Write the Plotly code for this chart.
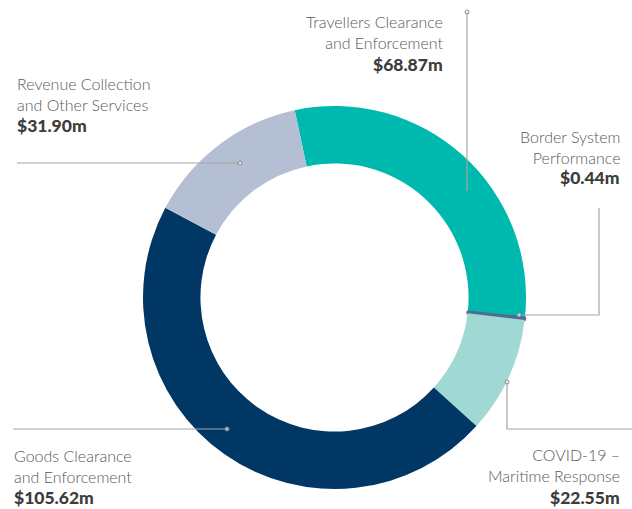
import plotly.graph_objects as go

W, H = 632, 509

labels = [
    "Travellers Clearance<br>and Enforcement",
    "Border System<br>Performance",
    "COVID-19 –<br>Maritime Response",
    "Goods Clearance<br>and Enforcement",
    "Revenue Collection<br>and Other Services",
]
values = [68.87, 0.44, 22.55, 105.62, 31.90]
colors = ["#00b9ae", "#4f6a93", "#a0d9d4", "#003764", "#b4bfd4"]

FONT = "Lato"
GREY = "#5a5a5a"
DARK = "#3c3c3c"
LINE = "#a6a6a6"


def px(x):
    return x / W


def py(y):
    return 1 - y / H


fig = go.Figure(
    go.Pie(
        labels=labels,
        values=values,
        sort=False,
        direction="clockwise",
        rotation=-12,
        hole=0.70,
        textinfo="none",
        hoverinfo="label+value",
        marker=dict(colors=colors, line=dict(color=colors, width=[0, 2.5, 0, 0, 0])),
        domain=dict(x=[px(143), px(526)], y=[py(489), py(106)]),
        showlegend=False,
    )
)

# label blocks: (index, x, name middle y, value middle y, anchor)
label_pos = [
    (0, 444, 32, 64, "right"),
    (1, 621, 147, 178, "right"),
    (2, 621, 465, 497, "right"),
    (3, 13, 466, 497, "left"),
    (4, 16, 94, 125, "left"),
]
for i, x, yn, yv, anchor in label_pos:
    fig.add_annotation(
        x=px(x), y=py(yn), xref="paper", yref="paper",
        xanchor=anchor, yanchor="middle", align=anchor,
        text=labels[i], showarrow=False, borderpad=0,
        font=dict(family=FONT, size=16, color=GREY, weight=300),
    )
    fig.add_annotation(
        x=px(x), y=py(yv), xref="paper", yref="paper",
        xanchor=anchor, yanchor="middle", align=anchor,
        text=f"${values[i]:.2f}m", showarrow=False, borderpad=0,
        font=dict(family=FONT, size=17.5, color=DARK, weight=900),
    )

# leader lines
paths = [
    [(467, 12), (467, 191)],
    [(519, 315), (599, 315), (599, 208)],
    [(507, 382), (507, 429), (632, 429)],
    [(227, 429), (13, 429)],
    [(240, 163), (17, 163)],
]
for pts in paths:
    d = "M " + " L ".join(f"{px(x)},{py(y)}" for x, y in pts)
    fig.add_shape(type="path", path=d, xref="paper", yref="paper",
                  line=dict(color=LINE, width=1.2))
    dx, dy = pts[0]
    fig.add_shape(type="circle", xref="paper", yref="paper",
                  xsizemode="pixel", ysizemode="pixel",
                  xanchor=px(dx), yanchor=py(dy), x0=-2, x1=2, y0=-2, y1=2,
                  line=dict(color="#8a8a8a", width=1), fillcolor="rgba(255,255,255,0.6)")

fig.update_layout(
    width=W, height=H,
    margin=dict(l=0, r=0, t=0, b=0),
    paper_bgcolor="white",
    plot_bgcolor="white",
    font=dict(family=FONT),
)

fig.write_html(
    "out.html",
    config={"displayModeBar": False},
    post_script="document.body.style.margin='0';",
)
